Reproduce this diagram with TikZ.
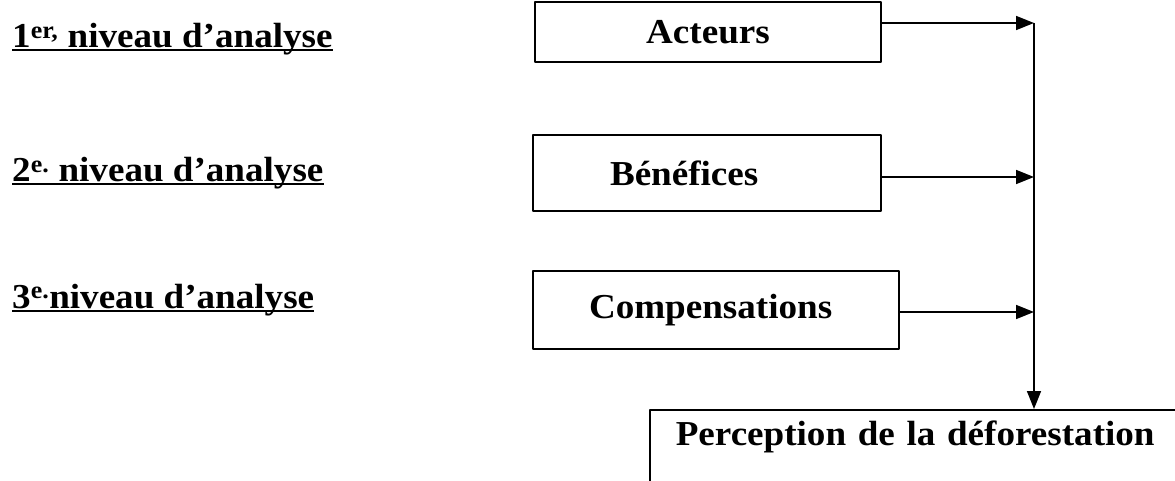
\documentclass[tikz,border=0pt]{standalone}
\usepackage{fontspec}
\setmainfont{Liberation Serif}[FakeStretch=1.06]
\usetikzlibrary{arrows.meta}
\begin{document}
\begin{tikzpicture}[x=1pt,y=1pt,line join=round,>={Triangle[length=18pt,width=14pt]},
	font=\fontsize{35}{42}\selectfont\bfseries,
	boite/.style={draw,line width=1.6pt,inner sep=0pt,align=center},
	fleche/.style={->,line width=1.6pt},
	niveau/.style={anchor=base west,inner sep=0pt}]
	\useasboundingbox (0,0) rectangle (1175,-481);
	\clip (0,0) rectangle (1175,-481);
	% niveaux d'analyse
	\node[niveau] (n1) at (12,-48) {1\textsuperscript{er,} niveau d’analyse};
	\node[niveau] (n2) at (12,-182) {2\textsuperscript{e.} niveau d’analyse};
	\node[niveau] (n3) at (12,-308) {3\textsuperscript{e.}niveau d’analyse};
	\foreach \n in {n1,n2,n3}
		\draw[line width=2pt] ([yshift=-2.5pt]\n.base west) -- ([yshift=-2.5pt]\n.base east);
	% boites
	\node[boite,minimum width=346pt,minimum height=60pt] (act) at (708,-32) {Acteurs};
	\node[boite,minimum height=76pt,text width=194pt,inner xsep=77pt,align=left] (ben) at (707,-173) {Bénéfices};
	\node[boite,minimum height=78pt,text width=254pt,inner xsep=56pt,align=left] (comp) at (716,-310) {Compensations};
	\node[boite,anchor=north west,text height=25pt,text depth=60pt,inner xsep=26pt,inner ysep=11pt,
		align=left,text width=520pt] (perc) at (649,-409) {Perception de la déforestation};
	\coordinate (bus) at (1034,-23);
	% fleches
	\draw[fleche] ([yshift=9pt]act.east) -- ([yshift=9pt]act.east -| bus);
	\draw[fleche] ([yshift=-4pt]ben.east) -- ([yshift=-4pt]ben.east -| bus);
	\draw[fleche] ([yshift=-2pt]comp.east) -- ([yshift=-2pt]comp.east -| bus);
	\draw[fleche] (bus) -- (bus |- perc.north);
\end{tikzpicture}
\end{document}
